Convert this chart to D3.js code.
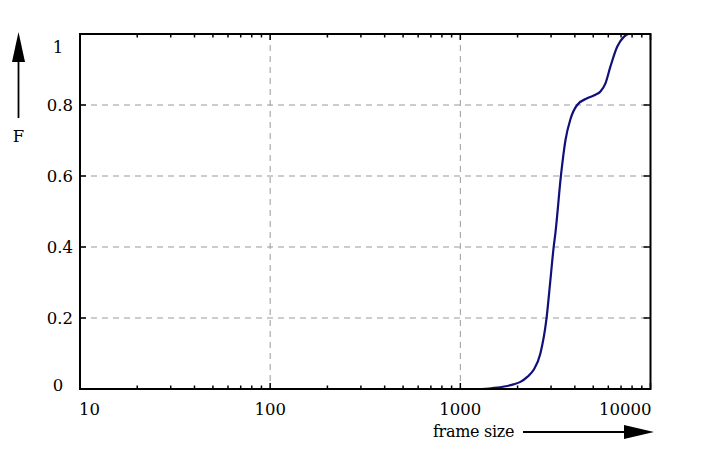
<!DOCTYPE html>
<html><head><meta charset="utf-8">
<script src="https://cdn.jsdelivr.net/npm/d3@7"></script>
<style>
html,body{margin:0;padding:0;background:#fff;}
</style></head>
<body><svg id="c" width="702" height="451" font-family="'DejaVu Serif', 'Liberation Serif', serif"></svg>
<script>
const frameSize = [700, 1000, 1300, 1500, 1700, 1900, 2070, 2250, 2430, 2636, 2835, 2976, 3096, 3163, 3387, 3569, 3793, 4114, 4646, 5100, 5455, 5796, 6153, 6680, 7240, 7690, 8050];
const cdfF      = [0, 0, 0, 0.003, 0.007, 0.013, 0.02, 0.034, 0.054, 0.10, 0.196, 0.307, 0.40, 0.44, 0.605, 0.70, 0.76, 0.80, 0.819, 0.828, 0.838, 0.861, 0.908, 0.964, 0.992, 1.0, 1.0];
const xTickValues = [10, 100, 1000, 10000];
const xTickLabels = ["10", "100", "1000", "10000"];
const yTickValues = [0, 0.2, 0.4, 0.6, 0.8, 1];
const yTickLabels = ["0", "0.2", "0.4", "0.6", "0.8", "1"];
const xTitle = "frame size";
const yTitle = "F";

const svg = d3.select("#c");
const L = 80, R = 650.5, T = 34, B = 389;
const x = d3.scaleLog().domain([10, 10000]).range([L, R]);
const y = d3.scaleLinear().domain([0, 1]).range([B, T]);

// grid
const g = svg.append("g");
g.selectAll("line.gx").data(xTickValues.filter(v => v > 10 && v < 10000)).enter().append("line")
  .attr("x1", d => x(d)).attr("x2", d => x(d)).attr("y1", T).attr("y2", B)
  .attr("stroke", "#999").attr("stroke-width", 1).attr("stroke-dasharray", "6,5");
g.selectAll("line.gy").data(yTickValues.filter(v => v > 0 && v < 1)).enter().append("line")
  .attr("y1", d => y(d)).attr("y2", d => y(d)).attr("x1", L).attr("x2", R)
  .attr("stroke", "#999").attr("stroke-width", 1).attr("stroke-dasharray", "6,5");

// minor ticks
const minor = [];
for (let p = 10; p < 10000; p *= 10) for (let k = 2; k <= 9; k++) minor.push(p * k);
const tk = svg.append("g").attr("stroke", "#000").attr("stroke-width", 1.5);
minor.forEach(v => {
  tk.append("line").attr("x1", x(v)).attr("x2", x(v)).attr("y1", B).attr("y2", B - 3.5);
  tk.append("line").attr("x1", x(v)).attr("x2", x(v)).attr("y1", T).attr("y2", T + 3.5);
});
xTickValues.forEach(v => {
  tk.append("line").attr("x1", x(v)).attr("x2", x(v)).attr("y1", B).attr("y2", B - 6);
  tk.append("line").attr("x1", x(v)).attr("x2", x(v)).attr("y1", T).attr("y2", T + 6);
});
yTickValues.forEach(v => {
  tk.append("line").attr("x1", L).attr("x2", L + 6).attr("y1", y(v)).attr("y2", y(v));
  tk.append("line").attr("x1", R).attr("x2", R - 7).attr("y1", y(v)).attr("y2", y(v));
});

// curve
const line = d3.line().x((d, i) => x(frameSize[i])).y(d => y(d)).curve(d3.curveMonotoneX);
svg.append("path").attr("d", line(cdfF)).attr("fill", "none")
  .attr("stroke", "#10107a").attr("stroke-width", 2.2);

// frame
svg.append("rect").attr("x", L).attr("y", T).attr("width", R - L).attr("height", B - T)
  .attr("fill", "none").attr("stroke", "#000").attr("stroke-width", 2);

// x labels
xTickValues.forEach((v, i) => {
  const anchor = i === 0 ? "start" : (i === xTickValues.length - 1 ? "end" : "middle");
  const xp = i === 0 ? x(v) - 1 : (i === xTickValues.length - 1 ? x(v) + 1 : x(v));
  svg.append("text").attr("x", xp).attr("y", 415).attr("text-anchor", anchor)
    .attr("font-size", 16.5).text(xTickLabels[i]);
});
// y labels
yTickValues.forEach((v, i) => {
  let yp = y(v) + 6;
  let xp = 73, anchor = "end";
  if (v === 0) { yp = y(v) + 2; xp = 58; anchor = "middle"; }
  if (v === 1) { yp = y(v) + 19; xp = 58; anchor = "middle"; }
  svg.append("text").attr("x", xp).attr("y", yp).attr("text-anchor", anchor)
    .attr("font-size", 16.5).text(yTickLabels[i]);
});

// axis titles with arrows
svg.append("text").attr("x", 18.5).attr("y", 142).attr("text-anchor", "middle")
  .attr("font-size", 16.5).text(yTitle);
svg.append("line").attr("x1", 18.5).attr("x2", 18.5).attr("y1", 118).attr("y2", 60)
  .attr("stroke", "#000").attr("stroke-width", 1.8);
svg.append("path").attr("d", "M18.5,32 L25,62 L12,62 Z").attr("fill", "#000");

svg.append("text").attr("x", 433).attr("y", 437).attr("font-size", 16)
  .attr("letter-spacing", -0.3).text(xTitle);
svg.append("line").attr("x1", 523).attr("x2", 626).attr("y1", 432).attr("y2", 432)
  .attr("stroke", "#000").attr("stroke-width", 1.8);
svg.append("path").attr("d", "M654,432 L624,425 L624,439 Z").attr("fill", "#000");
</script></body></html>
